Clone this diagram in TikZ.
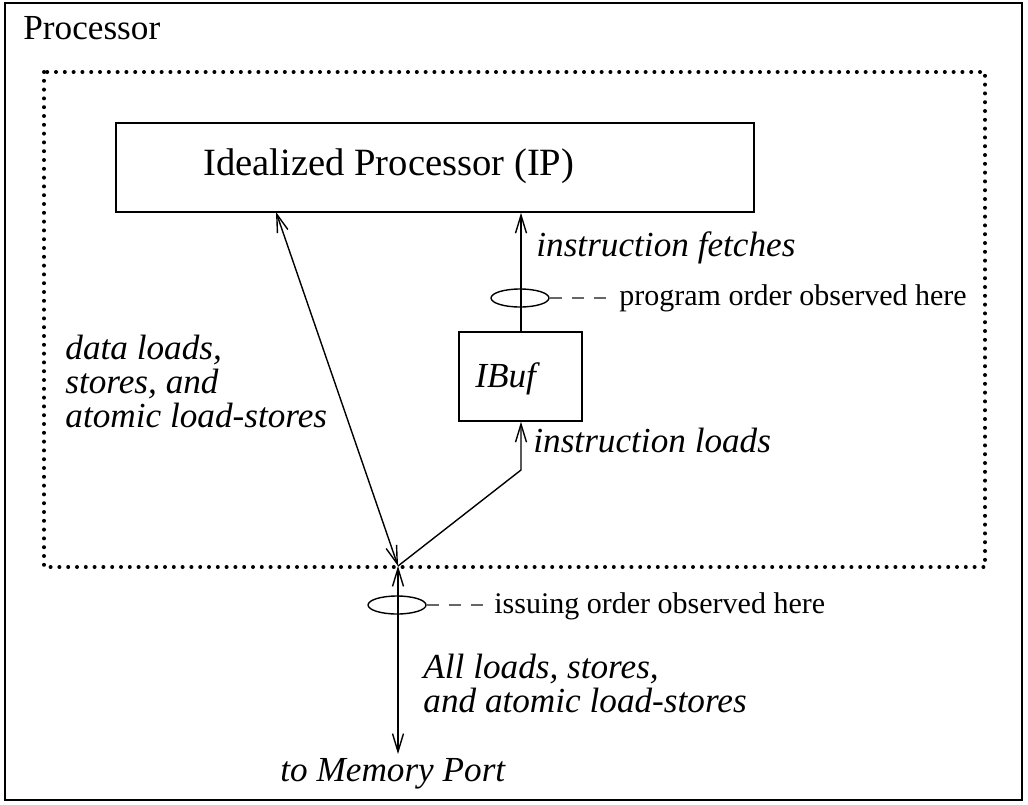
\documentclass[tikz,border=0pt]{standalone}
\usepackage{fontspec}
\setmainfont{Liberation Serif}
\usetikzlibrary{arrows.meta,positioning,shapes.geometric}
\tikzset{
  box/.style={draw,line width=0.8pt,inner sep=0pt},
  oval/.style={draw,ellipse,line width=0.7pt,inner sep=0pt,minimum width=29pt,minimum height=9pt},
  lbl/.style={font=\fontsize{17.6}{16.8}\selectfont\itshape,inner sep=0pt,align=left},
  note/.style={font=\fontsize{15}{15}\selectfont,inner sep=0pt},
  link/.style={line width=0.7pt},
  hint/.style={line width=0.7pt,gray!80!black,dash pattern=on 6pt off 5pt},
}
\begin{document}
\begin{tikzpicture}[x=0.5pt,y=-0.5pt,>={Straight Barb[length=9pt,width=5.5pt]}]
  \useasboundingbox (0,0) rectangle (1028,804);
  \draw[line width=0.9pt] (5,3) rectangle (1022,800);
  \node[anchor=base west,font=\fontsize{17.6}{17.6}\selectfont,inner sep=0pt] (proc) at (23,39) {Processor};
  \draw[line width=2pt,line cap=round,dash pattern=on 0pt off 4.4pt] (44,72) rectangle (985,567);
  \node[box,minimum width=319pt,minimum height=44.5pt] (ip) at (435,167.5) {};
  \node[anchor=base west,font=\fontsize{19.3}{19.3}\selectfont,inner sep=0pt] (iplbl) at (203,175) {Idealized Processor (IP)};
  \node[box,minimum width=61.5pt,minimum height=44.5pt] (ibuf) at (520.5,376.5) {};
  \node[lbl,anchor=base west] (ibuflbl) at (475,387) {IBuf};
  \coordinate (jn) at (398,566);
  \coordinate (bend) at (521,470);
  \coordinate (mem) at (398,754);
  \coordinate (ipdata) at (276,212);
  \draw[link,<->] (ipdata) -- (jn);
  \draw[link,->] (ibuf.north -| bend) -- (ip.south -| bend);
  \draw[link,->] (jn) -- (bend) -- (ibuf.south -| bend);
  \draw[link,<->] (jn) -- (mem);
  \node[oval] (ovalA) at (520,298) {};
  \node[note,anchor=west] (ordA) at (619,298) {program order observed here};
  \draw[hint] (ovalA.east) -- ++(62,0);
  \node[oval] (ovalB) at (397,605) {};
  \node[note,anchor=west] (ordB) at (494,606) {issuing order observed here};
  \draw[hint] (ovalB.east) -- ++(58,0);
  \node[lbl,anchor=base west] (fetch) at (536,256) {instruction fetches};
  \node[lbl,anchor=base west] (iload) at (533,452) {instruction loads};
  \node[lbl,anchor=north west] (dload) at (65,335) {data loads,\\stores, and\\atomic load-stores};
  \node[lbl,anchor=north west] (all) at (423,654) {All loads, stores,\\and atomic load-stores};
  \node[lbl,anchor=base west] (port) at (280,781) {to Memory Port};
\end{tikzpicture}
\end{document}
